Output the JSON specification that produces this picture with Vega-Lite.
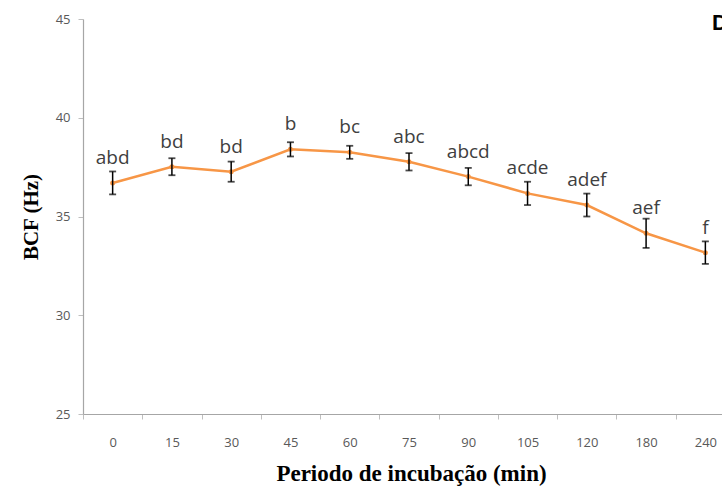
{
  "$schema": "https://vega.github.io/schema/vega-lite/v6.json",
  "autosize": {"type": "none"},
  "width": 639,
  "height": 395,
  "padding": {"left": 83, "top": 19, "right": 0, "bottom": 72},
  "background": "white",
  "title": {
    "text": "D",
    "anchor": "start",
    "frame": "group",
    "dx": 629,
    "dy": 22,
    "offset": 0,
    "baseline": "top",
    "font": "Liberation Sans",
    "fontSize": 22,
    "fontWeight": "bold",
    "color": "#000000"
  },
  "config": {
    "view": {"stroke": null},
    "axis": {"grid": false}
  },
  "data": {
    "values": [
      {"t": "0", "bcf": 36.70, "se": 0.58, "lab": "abd"},
      {"t": "15", "bcf": 37.52, "se": 0.43, "lab": "bd"},
      {"t": "30", "bcf": 37.27, "se": 0.51, "lab": "bd"},
      {"t": "45", "bcf": 38.40, "se": 0.36, "lab": "b"},
      {"t": "60", "bcf": 38.25, "se": 0.33, "lab": "bc"},
      {"t": "75", "bcf": 37.77, "se": 0.44, "lab": "abc"},
      {"t": "90", "bcf": 37.02, "se": 0.44, "lab": "abcd"},
      {"t": "105", "bcf": 36.17, "se": 0.59, "lab": "acde"},
      {"t": "120", "bcf": 35.58, "se": 0.58, "lab": "adef"},
      {"t": "180", "bcf": 34.15, "se": 0.74, "lab": "aef"},
      {"t": "240", "bcf": 33.17, "se": 0.57, "lab": "f"}
    ]
  },
  "transform": [
    {"calculate": "datum.bcf - datum.se", "as": "lo"},
    {"calculate": "datum.bcf + datum.se", "as": "hi"}
  ],
  "encoding": {
    "x": {
      "field": "t",
      "type": "nominal",
      "sort": null,
      "scale": {"type": "band", "paddingInner": 0, "paddingOuter": 0, "range": [0, 652]},
      "axis": {
        "title": "Periodo de incubação (min)",
        "titleFont": "Liberation Serif",
        "titleFontSize": 23,
        "titleFontWeight": "bold",
        "titleColor": "#000000",
        "titlePadding": 13,
        "titleX": 328,
        "labelAngle": 0,
        "labelFont": "Open Sans",
        "labelFontSize": 13,
        "labelColor": "#595959",
        "labelPadding": 17,
        "tickBand": "extent",
        "tickSize": 5,
        "tickColor": "#bfbfbf",
        "domainColor": "#a6a6a6",
        "domainWidth": 1.2
      }
    }
  },
  "layer": [
    {
      "mark": {"type": "line", "color": "#F79646", "strokeWidth": 2.5},
      "encoding": {
        "y": {
          "field": "bcf",
          "type": "quantitative",
          "scale": {"domain": [25, 45], "nice": false, "zero": false},
          "axis": {
            "title": "BCF (Hz)",
            "titleFont": "Liberation Serif",
            "titleFontSize": 21,
            "titleFontWeight": "bold",
            "titleColor": "#000000",
            "titlePadding": 14,
            "values": [25, 30, 35, 40, 45],
            "labelFont": "Open Sans",
            "labelFontSize": 13,
            "labelColor": "#595959",
            "labelPadding": 8,
            "tickSize": 5,
            "tickColor": "#bfbfbf",
            "domainColor": "#a6a6a6",
            "domainWidth": 1.2
          }
        }
      }
    },
    {
      "mark": {"type": "point", "filled": true, "color": "#F79646", "size": 25, "opacity": 1},
      "encoding": {"y": {"field": "bcf", "type": "quantitative"}}
    },
    {
      "mark": {"type": "rule", "color": "#000000", "strokeWidth": 1.5},
      "encoding": {
        "y": {"field": "lo", "type": "quantitative"},
        "y2": {"field": "hi"}
      }
    },
    {
      "mark": {"type": "tick", "color": "#000000", "orient": "horizontal", "size": 7, "thickness": 1.8},
      "encoding": {"y": {"field": "lo", "type": "quantitative"}}
    },
    {
      "mark": {"type": "tick", "color": "#000000", "orient": "horizontal", "size": 7, "thickness": 1.8},
      "encoding": {"y": {"field": "hi", "type": "quantitative"}}
    },
    {
      "mark": {"type": "text", "font": "Open Sans", "fontSize": 19, "color": "#404040", "baseline": "middle", "dy": -25},
      "encoding": {
        "y": {"field": "bcf", "type": "quantitative"},
        "text": {"field": "lab"}
      }
    }
  ]
}
